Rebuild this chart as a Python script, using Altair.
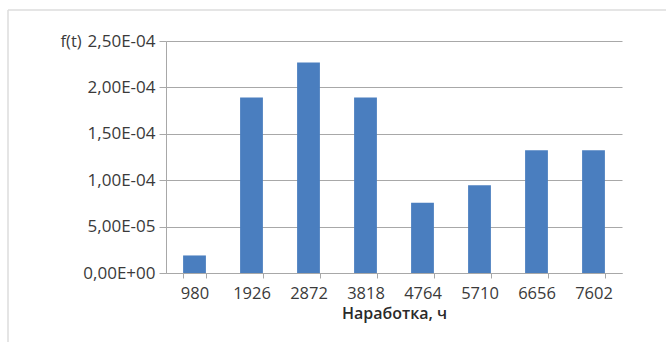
import altair as alt
import pandas as pd

categories = ["980", "1926", "2872", "3818", "4764", "5710", "6656", "7602"]
values = [1.89e-5, 1.89e-4, 2.268e-4, 1.89e-4, 7.56e-5, 9.45e-5, 1.323e-4, 1.323e-4]
y_ticks = [0, 5e-5, 1e-4, 1.5e-4, 2e-4, 2.5e-4]

df = pd.DataFrame({"t": categories, "f": values})

FONT = "Open Sans"
TEXT = "#3a3a3a"
GRID = "#a8a8a8"

label_expr = ("replace(replace(replace(format(datum.value, '.2e'), '.', ','), "
              "'e-', 'E-0'), 'e+', 'E+0')")

bars = alt.Chart(df).mark_bar(color="#4A7EBF").encode(
    x=alt.X("t:N", sort=categories,
            scale=alt.Scale(paddingInner=0.6, paddingOuter=0.3),
            axis=alt.Axis(title="Наработка, ч", labelAngle=0, tickBand="extent",
                          grid=False, domainColor=GRID, tickColor=GRID, tickSize=5,
                          labelPadding=7, labelFont=FONT, labelFontSize=16.5,
                          labelColor=TEXT, titleFont=FONT, titleFontSize=16,
                          titleFontWeight=600, titleColor="#2a2a2a",
                          titlePadding=4)),
    y=alt.Y("f:Q", scale=alt.Scale(domain=[0, 2.5e-4], nice=False),
            axis=alt.Axis(values=y_ticks, labelExpr=label_expr, title="f(t)",
                          titleAngle=0, titleX=-106, titleY=0, titleAlign="left",
                          titleBaseline="middle", titleFont=FONT, titleFontSize=16.5,
                          titleFontWeight="normal", titleColor=TEXT,
                          grid=True, gridColor=GRID, domainColor=GRID,
                          tickColor=GRID, tickSize=7, labelPadding=4,
                          labelFont=FONT, labelFontSize=17, labelColor=TEXT)),
)

frame_data = alt.Data(values=[{"k": 1}])
top_line = alt.Chart(frame_data).mark_rule(color="#dcdcdc", strokeWidth=1.5).encode(
    x=alt.value(-158), x2=alt.value(500), y=alt.value(-31))
left_line = alt.Chart(frame_data).mark_rule(color="#dcdcdc", strokeWidth=1.5).encode(
    x=alt.value(-158), y=alt.value(-31), y2=alt.value(301))

chart = alt.layer(bars, top_line, left_line).properties(
    width=456, height=232,
    padding={"left": 166, "top": 41, "right": 44, "bottom": 69},
    autosize=alt.AutoSizeParams(type="none"),
    background="white",
).configure_view(strokeWidth=0)

chart.save("out.html", embed_options={"renderer": "svg", "actions": False})
